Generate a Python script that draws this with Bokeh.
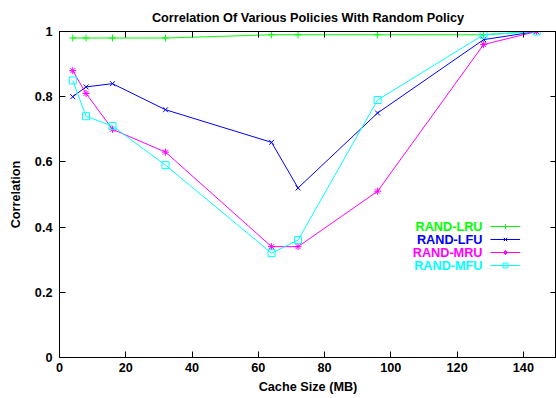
from bokeh.plotting import figure
from bokeh.models import (Range1d, FixedTicker, LinearAxis, NumeralTickFormatter,
                          Legend, LegendItem, Label, CustomLabelingPolicy)
from bokeh.embed import file_html
from bokeh.resources import INLINE

# ---- data ----
cache_mb = [4, 8, 16, 32, 64, 72, 96, 128, 144]
rand_lru = [0.98, 0.98, 0.98, 0.98, 0.99, 0.99, 0.99, 0.99, 1.0]
rand_lfu = [0.80, 0.83, 0.84, 0.76, 0.66, 0.52, 0.75, 0.975, 1.0]
rand_mru = [0.88, 0.81, 0.70, 0.63, 0.34, 0.34, 0.51, 0.96, 1.0]
rand_mfu = [0.85, 0.74, 0.71, 0.59, 0.32, 0.36, 0.79, 0.99, 1.0]

series_names = ["RAND-LRU", "RAND-LFU", "RAND-MRU", "RAND-MFU"]
series_values = [rand_lru, rand_lfu, rand_mru, rand_mfu]
series_colors = ["#00ff00", "#0000ff", "#ff00ff", "#00ffff"]
series_markers = ["cross", "x", "asterisk", "square"]

x_ticks = [0, 20, 40, 60, 80, 100, 120, 140]
y_ticks = [0, 0.2, 0.4, 0.6, 0.8, 1.0]

title_text = "Correlation Of Various Policies With Random Policy"

FONT = "Liberation Sans"
FS = "12.7px"

p = figure(width=556, height=398, output_backend="svg", toolbar_location=None,
           x_range=Range1d(0, 150), y_range=Range1d(0, 1),
           min_border_left=59, min_border_right=0, min_border_top=31,
           min_border_bottom=41, title=title_text)

p.title.align = "center"
p.title.text_font = FONT
p.title.text_font_size = FS
p.title.text_font_style = "bold"
p.title.text_color = "black"
p.title.standoff = 13

p.grid.visible = False
p.outline_line_color = "black"
p.outline_line_width = 1

no_labels = CustomLabelingPolicy(code="return new Set()")

def style_axis(ax, show_labels=True):
    ax.axis_line_color = "black"
    ax.axis_line_width = 1
    ax.major_tick_in = 6
    ax.major_tick_out = 0
    ax.minor_tick_line_color = None
    ax.major_tick_line_color = "black"
    ax.major_label_text_font = FONT
    ax.major_label_text_font_style = "bold"
    ax.major_label_text_color = "black"
    ax.axis_label_text_font = FONT
    ax.axis_label_text_font_style = "bold"
    ax.axis_label_text_font_size = FS
    ax.axis_label_text_color = "black"
    if show_labels:
        ax.major_label_text_font_size = FS
    else:
        ax.major_label_text_font_size = "0px"
        ax.major_label_standoff = 0
        ax.axis_label_standoff = 0
        ax.major_label_policy = no_labels

xa = p.xaxis[0]
ya = p.yaxis[0]
xa.ticker = FixedTicker(ticks=x_ticks)
ya.ticker = FixedTicker(ticks=y_ticks)
xa.formatter = NumeralTickFormatter(format="0")
ya.formatter = NumeralTickFormatter(format="0.[0]")
style_axis(xa)
style_axis(ya)
xa.major_label_standoff = 5
ya.major_label_standoff = 7
xa.axis_label = "Cache Size (MB)"
ya.axis_label = "Correlation"
xa.axis_label_standoff = 5
ya.axis_label_standoff = 9

top = LinearAxis(ticker=FixedTicker(ticks=x_ticks))
right = LinearAxis(ticker=FixedTicker(ticks=y_ticks))
style_axis(top, False)
style_axis(right, False)
p.add_layout(top, "above")
p.add_layout(right, "right")

items = []
for name, vals, col, mk in zip(series_names, series_values, series_colors, series_markers):
    ln = p.line(cache_mb, vals, line_color=col, line_width=1)
    sc = p.scatter(cache_mb, vals, marker=mk, size=7, line_color=col,
                   fill_color=None, line_width=1)
    items.append(LegendItem(label=" ", renderers=[ln, sc]))

LEG_X, LEG_Y = 431, 86
legend = Legend(items=items, location=(LEG_X, LEG_Y), orientation="vertical",
                glyph_width=30, glyph_height=12, spacing=1, padding=0, margin=0,
                label_width=0, label_height=12, label_standoff=0,
                label_text_font_size="1px",
                border_line_color=None, background_fill_alpha=0)
p.add_layout(legend, "center")

# coloured legend texts (right-aligned to the left of the samples)
legend_top = LEG_Y + 4 * 12 + 3 * 1
for i, (name, col) in enumerate(zip(series_names, series_colors)):
    yc = legend_top - 6 - 13 * i
    p.add_layout(Label(x=LEG_X - 8, y=yc, x_units="screen", y_units="screen",
                       text=name, text_align="right", text_baseline="middle",
                       text_color=col, text_font=FONT, text_font_size=FS,
                       text_font_style="bold"))

open("out.html", "w").write(file_html(p, INLINE))
